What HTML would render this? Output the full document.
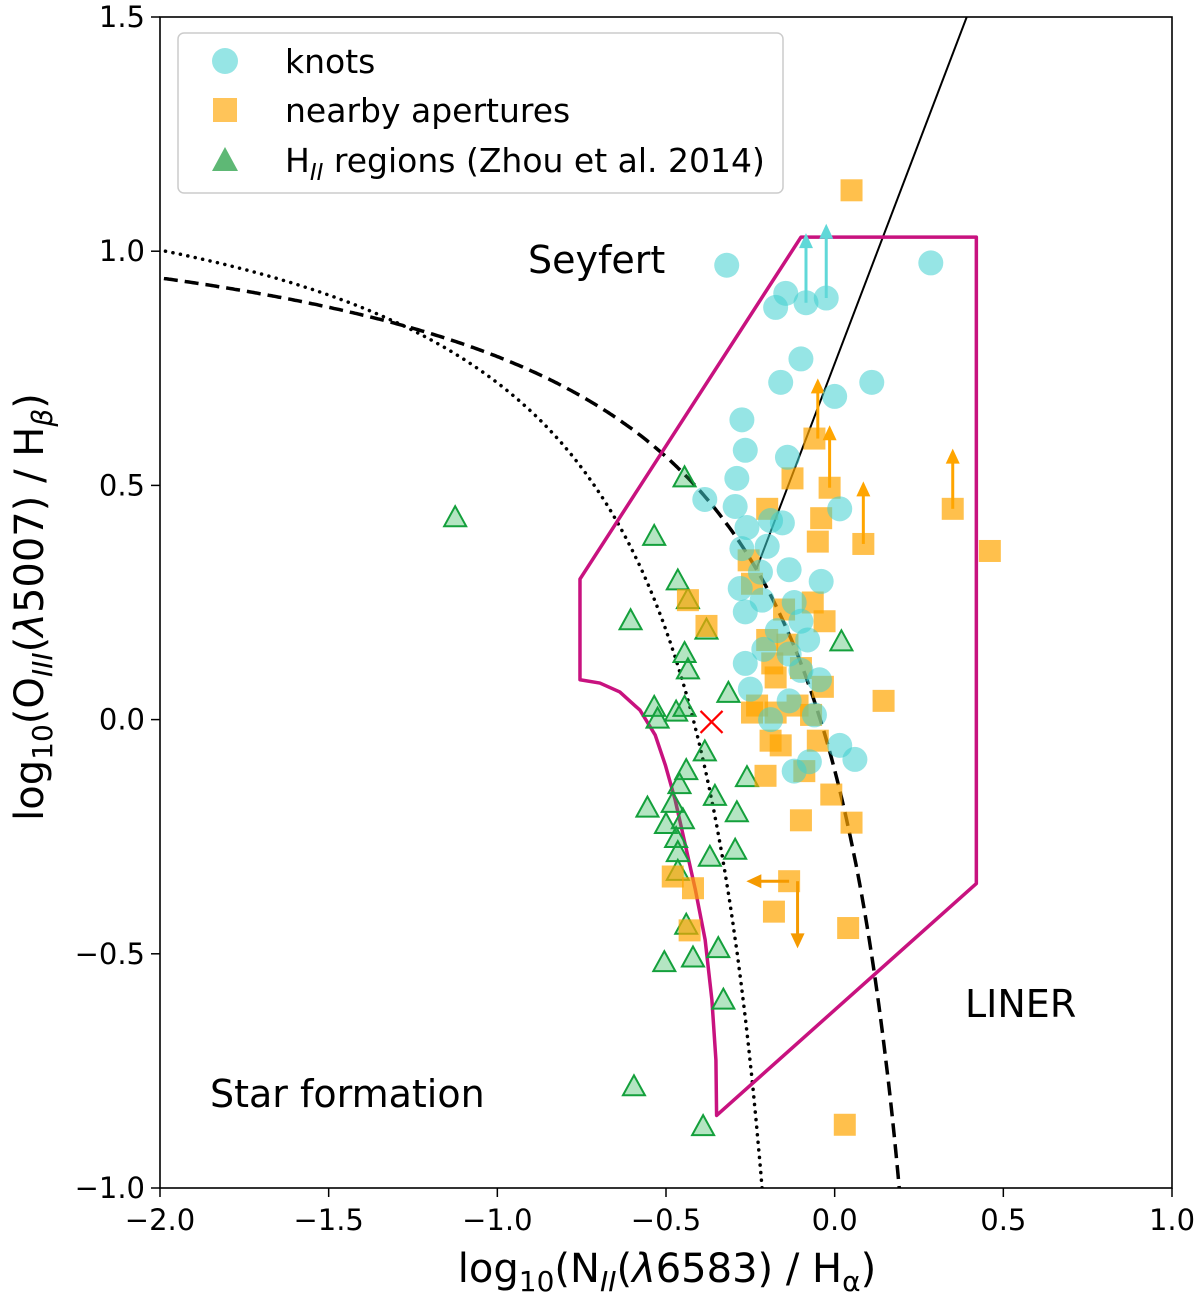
<!DOCTYPE html>
<html><head><meta charset="utf-8"><style>
body{margin:0;background:#fff}
svg text{font-family:"DejaVu Sans","Liberation Sans",sans-serif;fill:#000}
</style></head><body>
<svg id="chart" width="1200" height="1295" xmlns="http://www.w3.org/2000/svg">
<defs><clipPath id="pc"><rect x="160" y="17" width="1012" height="1171"/></clipPath></defs>
<g id="plot" clip-path="url(#pc)"></g>
<rect x="160" y="17" width="1012" height="1171" fill="none" stroke="#000" stroke-width="1.6"/>
<g id="axes"></g>
<text x="667" y="1282" font-size="40" text-anchor="middle">log<tspan font-size="28" dy="9">10</tspan><tspan dy="-9">(N</tspan><tspan font-size="28" dy="9" font-style="italic">II</tspan><tspan dy="-9">(</tspan><tspan font-style="italic">λ</tspan>6583) / H<tspan font-size="28" dy="9">α</tspan><tspan dy="-9">)</tspan></text>
<text transform="translate(43,607) rotate(-90)" font-size="40" text-anchor="middle">log<tspan font-size="28" dy="9">10</tspan><tspan dy="-9">(O</tspan><tspan font-size="28" dy="9" font-style="italic">III</tspan><tspan dy="-9">(</tspan><tspan font-style="italic">λ</tspan>5007) / H<tspan font-size="28" dy="9" font-style="italic">β</tspan><tspan dy="-9">)</tspan></text>
<text x="528" y="273" font-size="38">Seyfert</text>
<text x="965" y="1017" font-size="38">LINER</text>
<text x="210" y="1107" font-size="38">Star formation</text>
<g>
<rect x="178" y="33" width="605" height="160" rx="6" fill="#fff" fill-opacity="0.85" stroke="#ccc" stroke-width="1.5"/>
<circle cx="225" cy="61" r="13" fill="#40d0d0" fill-opacity="0.55"/>
<text x="285" y="73" font-size="33">knots</text>
<rect x="213" y="98" width="24" height="24" fill="#ffa500" fill-opacity="0.65"/>
<text x="285" y="122" font-size="33">nearby apertures</text>
<polygon points="225,147 238,171 212,171" fill="#1a9a3a" fill-opacity="0.7"/>
<text x="285" y="172" font-size="33">H<tspan font-size="23" dy="8" font-style="italic">II</tspan><tspan dy="-8"> regions (Zhou et al. 2014)</tspan></text>
</g>
</svg>
<script>
const knotX=[-0.32,0.285,-0.145,-0.175,-0.085,-0.025,-0.10,-0.16,0.11,0.0,-0.275,-0.265,-0.14,-0.29,-0.385,-0.295,-0.19,-0.155,0.015,-0.26,-0.275,-0.2,-0.135,-0.22,-0.04,-0.28,-0.215,-0.12,-0.265,-0.10,-0.17,-0.08,-0.21,-0.135,-0.265,-0.10,-0.045,-0.25,-0.135,-0.06,-0.19,0.015,0.06,-0.12,-0.075];
const knotY=[0.97,0.975,0.91,0.88,0.89,0.90,0.77,0.72,0.72,0.69,0.64,0.575,0.56,0.515,0.47,0.455,0.425,0.42,0.45,0.41,0.365,0.37,0.32,0.315,0.295,0.28,0.255,0.25,0.23,0.21,0.19,0.17,0.15,0.14,0.12,0.105,0.085,0.065,0.04,0.01,0.0,-0.055,-0.085,-0.11,-0.09];
const apX=[0.05,-0.125,-0.06,-0.015,-0.2,-0.04,-0.05,0.35,0.46,0.085,-0.255,-0.245,-0.15,-0.065,-0.03,-0.435,-0.38,-0.2,-0.14,-0.185,-0.1,-0.175,-0.035,-0.23,-0.11,0.145,-0.245,-0.175,-0.07,-0.19,-0.05,-0.16,-0.205,-0.09,-0.01,-0.1,0.05,-0.48,-0.42,-0.135,-0.18,0.04,0.03,-0.43];
const apY=[1.13,0.515,0.6,0.495,0.45,0.43,0.38,0.45,0.36,0.375,0.34,0.29,0.235,0.25,0.21,0.255,0.2,0.17,0.16,0.12,0.11,0.09,0.07,0.03,0.03,0.04,0.015,0.015,0.01,-0.045,-0.045,-0.055,-0.12,-0.11,-0.16,-0.215,-0.22,-0.335,-0.36,-0.345,-0.41,-0.445,-0.865,-0.45];
const hiiX=[-0.445,-1.125,-0.535,-0.465,-0.435,-0.605,-0.38,-0.445,-0.435,-0.315,-0.535,-0.525,-0.47,-0.445,-0.385,-0.44,-0.46,-0.355,-0.555,-0.48,-0.45,-0.29,-0.5,-0.47,-0.465,-0.37,-0.295,-0.465,-0.44,-0.345,-0.505,-0.42,-0.33,-0.595,-0.39,0.02,-0.26];
const hiiY=[0.515,0.43,0.39,0.295,0.255,0.21,0.19,0.14,0.105,0.055,0.025,0.0,0.015,0.025,-0.07,-0.11,-0.14,-0.165,-0.19,-0.18,-0.215,-0.2,-0.225,-0.255,-0.285,-0.295,-0.28,-0.325,-0.44,-0.49,-0.52,-0.51,-0.6,-0.785,-0.87,0.165,-0.125];
const polyX=[-0.10,0.42,0.42,-0.35,-0.352,-0.364,-0.384,-0.413,-0.443,-0.473,-0.502,-0.532,-0.577,-0.637,-0.696,-0.755,-0.755];
const polyY=[1.03,1.03,-0.35,-0.845,-0.727,-0.598,-0.47,-0.363,-0.267,-0.171,-0.097,-0.033,0.02,0.059,0.078,0.085,0.30];
const xTicks=[-2.0,-1.5,-1.0,-0.5,0.0,0.5,1.0];
const yTicks=[-1.0,-0.5,0.0,0.5,1.0,1.5];
const knotArrowX=[-0.085,-0.025], knotArrowY0=[0.89,0.90], knotArrowY1=[1.03,1.05];
const apArrowX=[-0.05,-0.015,0.085,0.35], apArrowY0=[0.6,0.495,0.375,0.45], apArrowY1=[0.72,0.62,0.5,0.57];

const X=v=>160+(v+2)*1012/3, Y=v=>1188-(v+1)*1171/2.5;
const NS='http://www.w3.org/2000/svg';
const plot=document.getElementById('plot'), axes=document.getElementById('axes');
function mk(tag,attrs,parent){const e=document.createElementNS(NS,tag);for(const k in attrs)e.setAttribute(k,attrs[k]);parent.appendChild(e);return e;}

xTicks.forEach(t=>{
 const l=mk('line',{x1:X(t),x2:X(t),y1:1188,y2:1197,stroke:'#000','stroke-width':1.5},axes);
 
 
 const tx=mk('text',{x:X(t),y:1230,'font-size':29,'text-anchor':'middle'},axes);
 tx.textContent=t.toFixed(1).replace('-','−');
 
 
});
yTicks.forEach(t=>{
 const l=mk('line',{x1:151,x2:160,y1:Y(t),y2:Y(t),stroke:'#000','stroke-width':1.5},axes);
 
 
 const tx=mk('text',{x:145,y:Y(t)+10,'font-size':29,'text-anchor':'end'},axes);
 tx.textContent=t.toFixed(1).replace('-','−');
 
 
});

function curve(f,x0,x1){let d='';for(let i=0;i<=400;i++){const x=x0+(x1-x0)*i/400;const y=f(x);d+=(i?'L':'M')+X(x).toFixed(1)+','+Y(y).toFixed(1);}return d;}
const kauff=x=>0.61/(x-0.05)+1.3, kew=x=>0.61/(x-0.47)+1.19;
const c1=mk('path',{d:curve(kauff,-2.05,-0.2),fill:'none',stroke:'#000','stroke-width':3.5,'stroke-dasharray':'0.1,7.5','stroke-linecap':'round'},plot);


const c2=mk('path',{d:curve(kew,-2.05,0.21),fill:'none',stroke:'#000','stroke-width':3.5,'stroke-dasharray':'14,7'},plot);


let xs=-0.24;for(let x=-0.6;x<0.3;x+=0.0005){if(1.89*x+0.76>=kew(x)){xs=x;break;}}
const sl=mk('line',{x1:X(xs),y1:Y(1.89*xs+0.76),x2:X(0.5),y2:Y(1.89*0.5+0.76),stroke:'#000','stroke-width':2},plot);



const pg=mk('polygon',{points:polyX.map((x,i)=>X(x)+','+Y(polyY[i])).join(' '),fill:'none',stroke:'#c8127f','stroke-width':3.5,'stroke-linejoin':'round'},plot);



function arrow(x0,y0,x1,y1,col,name){
 const g=mk('g',{},plot);
 
 
 const px0=X(x0),py0=Y(y0),px1=X(x1),py1=Y(y1);
 mk('line',{x1:px0,y1:py0,x2:px1,y2:py1,stroke:col,'stroke-width':3},g);
 const a=Math.atan2(py1-py0,px1-px0),s=11;
 const p=[[px1+Math.cos(a)*4,py1+Math.sin(a)*4],[px1-Math.cos(a)*s+Math.sin(a)*7,py1-Math.sin(a)*s-Math.cos(a)*7],[px1-Math.cos(a)*s-Math.sin(a)*7,py1-Math.sin(a)*s+Math.cos(a)*7]];
 mk('polygon',{points:p.map(q=>q.join(',')).join(' '),fill:col},g);
}

hiiX.forEach((x,i)=>{const cx=X(x),cy=Y(hiiY[i]);
 const t=mk('polygon',{points:`${cx},${cy-12} ${cx+11},${cy+8} ${cx-11},${cy+8}`,fill:'rgba(40,180,80,0.35)',stroke:'#14a03c','stroke-width':2},plot);
 
 
});
apX.forEach((x,i)=>{const r=mk('rect',{x:X(x)-11,y:Y(apY[i])-11,width:22,height:22,fill:'#ffa500','fill-opacity':0.7},plot);
 
 
});
apArrowX.forEach((x,i)=>arrow(x,apArrowY0[i],x,apArrowY1[i],'#ffa500','aperture-limit-arrow'));
arrow(-0.135,-0.345,-0.25,-0.345,'#f59a00','aperture-limit-arrow');
arrow(-0.11,-0.345,-0.11,-0.48,'#f59a00','aperture-limit-arrow');
knotX.forEach((x,i)=>{const c=mk('circle',{cx:X(x),cy:Y(knotY[i]),r:12.5,fill:'#40d0d0','fill-opacity':0.55},plot);
 
 
});
knotArrowX.forEach((x,i)=>arrow(x,knotArrowY0[i],x,knotArrowY1[i],'#60d8d8','knot-limit-arrow'));
const rx=X(-0.365),ry=Y(-0.005);
const xm=mk('path',{d:`M${rx-11},${ry-11}L${rx+11},${ry+11}M${rx-11},${ry+11}L${rx+11},${ry-11}`,stroke:'#ff0000','stroke-width':2.2},plot);


</script>
</body></html>
